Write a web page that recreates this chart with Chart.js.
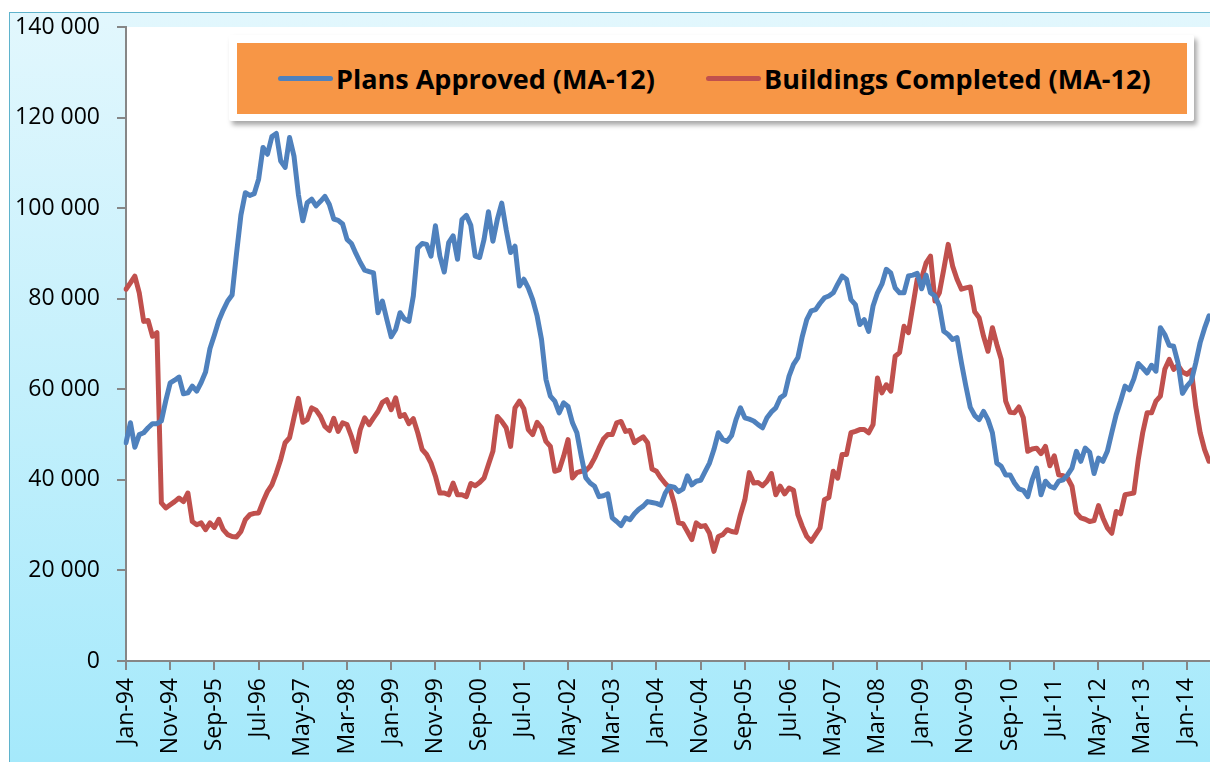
<!DOCTYPE html>
<html>
<head>
<meta charset="utf-8">
<script src="https://cdn.jsdelivr.net/npm/chart.js@4.4.1/dist/chart.umd.min.js"></script>
<style>
  html, body { margin: 0; padding: 0; background: #fff; overflow: hidden; }
  #wrap { position: relative; width: 1210px; height: 762px; }
  #bg {
    position: absolute; left: 9px; top: 12px; right: 0; bottom: 0;
    border-left: 1px solid #5fb3cc; border-top: 1px solid #5fb3cc;
    background: linear-gradient(#e2f7fd, #a5e9fb);
  }
  #chart { position: absolute; left: 0; top: 0; }
  #legend {
    position: absolute; left: 229px; top: 35px; width: 965px; height: 86px;
    background: #fff; box-shadow: 3px 4px 5px rgba(0,0,0,0.35); border-radius: 2px;
  }
  #legend .inner {
    position: absolute; left: 8px; top: 8px; width: 950px; height: 71px;
    background: #f79646;
  }
  #legend .item {
    position: absolute; top: 0; height: 71px; display: flex; align-items: center;
    font-family: "Open Sans", sans-serif; font-weight: bold; font-size: 27px; color: #000;
    white-space: nowrap;
  }
  #legend .swatch { width: 55px; height: 5px; border-radius: 3px; margin-right: 3px; }
</style>
</head>
<body>
<div id="wrap">
  <div id="bg"></div>
  <canvas id="chart" width="1210" height="762"></canvas>
  <div id="legend"><div class="inner" id="legendInner"></div></div>
</div>
<script>
// monthly data Jan-94 .. Jun-14, values in thousands
var monthNames = ["Jan", "Feb", "Mar", "Apr", "May", "Jun", "Jul", "Aug", "Sep", "Oct", "Nov", "Dec"];
var startYear = 1994;
var monthCount = 246;

var plansApproved = [
  48.2, 52.6, 47.2, 50.0, 50.4, 51.5, 52.4, 52.4, 53.0, 57.5,
  61.4, 62.0, 62.7, 59.0, 59.2, 60.7, 59.6, 61.5, 63.8, 69.0,
  72.0, 75.2, 77.5, 79.5, 80.8, 90.0, 98.5, 103.4, 102.8, 103.2,
  106.4, 113.4, 111.9, 115.8, 116.5, 110.4, 109.0, 115.6, 111.5, 103.0,
  97.2, 101.2, 102.0, 100.5, 101.5, 102.6, 100.8, 97.6, 97.3, 96.5,
  93.1, 92.2, 90.0, 88.0, 86.3, 86.0, 85.7, 76.9, 79.5, 75.4,
  71.6, 73.2, 76.9, 75.5, 75.0, 80.6, 91.2, 92.2, 92.0, 89.4,
  96.1, 89.4, 85.9, 92.4, 93.9, 88.7, 97.5, 98.4, 96.2, 89.4,
  89.1, 93.1, 99.2, 92.7, 97.5, 101.1, 95.3, 90.2, 91.6, 82.8,
  84.3, 82.4, 79.8, 76.2, 71.0, 62.2, 58.5, 57.4, 54.8, 57.0,
  56.2, 52.6, 50.4, 45.2, 40.5, 39.3, 38.6, 36.3, 36.5, 36.9,
  31.6, 30.8, 29.9, 31.6, 31.2, 32.5, 33.5, 34.2, 35.2, 35.0,
  34.8, 34.4, 37.1, 38.6, 38.4, 37.4, 38.0, 40.9, 38.9, 39.7,
  39.9, 41.8, 43.7, 46.7, 50.4, 48.9, 48.5, 49.8, 53.3, 55.9,
  53.7, 53.4, 53.0, 52.2, 51.5, 53.7, 55.0, 55.9, 58.1, 58.8,
  62.9, 65.5, 67.0, 71.7, 75.4, 77.3, 77.6, 79.0, 80.2, 80.6,
  81.3, 83.2, 85.0, 84.3, 79.8, 78.7, 74.3, 75.4, 72.8, 78.4,
  81.3, 83.2, 86.5, 85.7, 82.4, 81.3, 81.3, 85.0, 85.2, 85.6,
  82.2, 85.2, 81.3, 80.6, 78.4, 72.8, 72.1, 71.0, 71.4, 65.8,
  60.7, 56.0, 54.2, 53.3, 55.1, 53.3, 50.4, 43.7, 43.0, 41.1,
  41.1, 39.3, 38.0, 37.7, 36.3, 40.0, 42.6, 36.7, 39.7, 38.6,
  38.2, 39.7, 40.0, 41.1, 42.6, 46.3, 44.1, 47.0, 46.1, 41.4,
  44.8, 44.1, 46.3, 50.4, 54.4, 57.4, 60.7, 59.9, 62.3, 65.7,
  64.7, 63.6, 65.3, 64.0, 73.6, 72.1, 69.7, 69.5, 65.8, 59.1,
  60.7, 61.8, 65.8, 70.3, 73.5, 76.2
];

var buildingsCompleted = [
  82.1, 83.5, 85.0, 81.3, 75.0, 75.2, 71.7, 72.5, 34.9, 33.8,
  34.5, 35.2, 36.0, 35.2, 37.1, 30.8, 30.1, 30.5, 29.0, 30.5,
  29.5, 31.3, 29.0, 27.9, 27.5, 27.4, 28.6, 31.2, 32.3, 32.6,
  32.7, 35.2, 37.4, 38.9, 41.5, 44.5, 48.2, 49.3, 53.7, 58.0,
  52.7, 53.3, 55.9, 55.4, 54.0, 51.8, 50.9, 53.6, 50.7, 52.6,
  52.2, 49.6, 46.3, 51.1, 53.7, 52.2, 53.7, 55.1, 57.1, 57.7,
  55.5, 58.1, 54.0, 54.4, 52.4, 53.5, 50.4, 46.7, 45.6, 43.7,
  40.8, 37.1, 37.1, 36.7, 39.3, 36.7, 36.7, 36.3, 39.2, 38.7,
  39.4, 40.4, 43.4, 46.3, 54.0, 52.9, 51.5, 47.4, 55.9, 57.4,
  55.7, 51.1, 50.0, 52.7, 51.5, 48.5, 47.4, 41.9, 42.2, 45.2,
  48.9, 40.4, 41.6, 41.9, 42.0, 43.0, 44.8, 47.0, 49.0, 50.0,
  50.0, 52.6, 52.9, 50.7, 50.9, 48.2, 48.9, 49.5, 48.2, 42.4,
  41.9, 40.4, 39.2, 38.2, 34.9, 30.5, 30.3, 28.6, 26.8, 30.5,
  29.7, 29.9, 28.2, 24.2, 27.5, 27.9, 29.0, 28.6, 28.4, 32.3,
  35.6, 41.6, 39.3, 39.4, 38.7, 39.7, 41.4, 36.7, 38.6, 36.9,
  38.2, 37.7, 32.3, 29.7, 27.5, 26.4, 27.9, 29.4, 35.6, 36.1,
  41.9, 40.4, 45.6, 45.6, 50.4, 50.7, 51.1, 51.1, 50.4, 52.2,
  62.5, 59.2, 61.0, 59.6, 67.3, 68.1, 73.9, 72.5, 78.4, 84.3,
  84.6, 87.9, 89.4, 79.5, 81.3, 86.5, 92.0, 87.2, 84.3, 82.1,
  82.4, 82.6, 77.1, 75.8, 71.7, 68.4, 73.6, 69.9, 66.6, 57.4,
  54.9, 54.8, 56.1, 53.7, 46.3, 46.8, 47.0, 45.8, 47.4, 43.1,
  45.3, 41.1, 40.9, 40.4, 38.6, 32.7, 31.6, 31.3, 30.8, 31.0,
  34.3, 31.6, 29.4, 28.2, 33.0, 32.5, 36.7, 36.9, 37.1, 44.5,
  50.4, 54.8, 54.8, 57.4, 58.5, 64.4, 66.6, 64.4, 65.3, 63.8,
  63.3, 64.2, 56.2, 50.4, 46.7, 44.1
];

var yTicks = [0, 20, 40, 60, 80, 100, 120, 140];
var seriesNames = ["Plans Approved (MA-12)", "Buildings Completed (MA-12)"];
var seriesColors = ["#4f81bd", "#c0504d"];

var labels = [];
for (var i = 0; i < monthCount; i++) {
  var yr = (startYear + Math.floor(i / 12)) % 100;
  labels.push(monthNames[i % 12] + "-" + (yr < 10 ? "0" + yr : "" + yr));
}

var plotBackground = {
  id: "plotBackground",
  beforeDraw: function (chart) {
    var ctx = chart.ctx, a = chart.chartArea;
    ctx.save();
    ctx.fillStyle = "#ffffff";
    ctx.fillRect(a.left, a.top, chart.width - a.left, a.bottom - a.top);
    ctx.restore();
  }
};

var tickFont = { family: "'Open Sans', sans-serif", size: 23 };

var chart = new Chart(document.getElementById("chart").getContext("2d"), {
  type: "line",
  data: {
    labels: labels,
    datasets: [
      {
        label: seriesNames[0],
        data: plansApproved,
        borderColor: seriesColors[0],
        backgroundColor: seriesColors[0],
        borderWidth: 5,
        pointRadius: 0,
        tension: 0,
        borderJoinStyle: "round",
        borderCapStyle: "round"
      },
      {
        label: seriesNames[1],
        data: buildingsCompleted,
        borderColor: seriesColors[1],
        backgroundColor: seriesColors[1],
        borderWidth: 5,
        pointRadius: 0,
        tension: 0,
        borderJoinStyle: "round",
        borderCapStyle: "round"
      }
    ]
  },
  options: {
    responsive: false,
    animation: false,
    layout: { padding: { top: 27, right: 1, bottom: 0, left: 0 } },
    plugins: {
      legend: { display: false },
      tooltip: { enabled: false }
    },
    scales: {
      x: {
        offset: false,
        grid: { display: true, drawOnChartArea: false, drawTicks: true, tickLength: 9, color: "#868686", lineWidth: 2 },
        border: { display: true, color: "#868686", width: 2 },
        afterBuildTicks: function (scale) {
          scale.ticks = scale.ticks.filter(function (t) { return t.value % 10 === 0; });
        },
        afterFit: function (scale) {
          scale.height = 101;
          scale.paddingLeft = 0;
          scale.paddingRight = 0;
        },
        ticks: {
          autoSkip: false,
          maxRotation: 90,
          minRotation: 90,
          padding: 8,
          color: "#000",
          font: tickFont
        }
      },
      y: {
        min: 0,
        max: 140,
        grid: { display: true, drawOnChartArea: false, drawTicks: true, tickLength: 9, color: "#868686", lineWidth: 2 },
        border: { display: true, color: "#868686", width: 2 },
        afterFit: function (scale) {
          scale.width = 126;
          scale.paddingTop = 0;
          scale.paddingBottom = 0;
        },
        afterBuildTicks: function (scale) {
          scale.ticks = yTicks.map(function (v) { return { value: v }; });
        },
        ticks: {
          padding: 17,
          color: "#000",
          font: tickFont,
          callback: function (v) { return v === 0 ? "0" : v + " 000"; }
        }
      }
    }
  },
  plugins: [plotBackground]
});

// legend built from the chart's datasets
var legendInner = document.getElementById("legendInner");
var itemLeft = [41, 469];
chart.data.datasets.forEach(function (ds, k) {
  var item = document.createElement("div");
  item.className = "item";
  item.style.left = itemLeft[k] + "px";
  var sw = document.createElement("span");
  sw.className = "swatch";
  sw.style.background = ds.borderColor;
  var tx = document.createElement("span");
  tx.textContent = ds.label;
  item.appendChild(sw);
  item.appendChild(tx);
  legendInner.appendChild(item);
});
</script>
</body>
</html>
